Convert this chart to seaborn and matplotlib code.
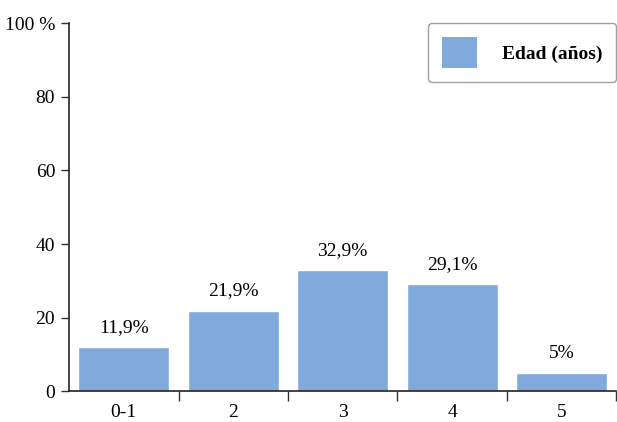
import numpy as np
import pandas as pd
import seaborn as sns
import matplotlib.pyplot as plt
from matplotlib.patches import Patch

categorias = ['0-1', '2', '3', '4', '5']
porcentajes = [11.9, 21.9, 32.9, 29.1, 5.0]
etiquetas = ['11,9%', '21,9%', '32,9%', '29,1%', '5%']
y_ticks = [0, 20, 40, 60, 80, 100]
y_labels = ['0', '20', '40', '60', '80', '100 %']

sns.set_style('ticks')
plt.rcParams['font.family'] = ['Liberation Serif', 'DejaVu Serif']
plt.rcParams['font.size'] = 14
plt.rcParams['text.color'] = 'black'
plt.rcParams['xtick.color'] = 'black'
plt.rcParams['ytick.color'] = 'black'

color = '#82a9dc'
df = pd.DataFrame({'edad': categorias, 'pct': porcentajes})

fig = plt.figure(figsize=(6.17, 4.22), dpi=100)
ax = fig.add_axes([0.112, 0.073, 0.887, 0.872])
sns.barplot(data=df, x='edad', y='pct', color=color, saturation=1, width=0.83, ax=ax)

ax.bar_label(ax.containers[0], labels=etiquetas, padding=8, fontsize=14)

ax.set_ylim(0, 100)
ax.set_xlim(-0.5, 4.5)
ax.set_yticks(y_ticks)
ax.set_yticklabels(y_labels)
ax.set_xlabel('')
ax.set_ylabel('')

# ticks on x at the boundaries between groups, labels centered
ax.set_xticks(np.arange(len(categorias)) + 0.5)
ax.set_xticklabels([])
ax.set_xticks(np.arange(len(categorias)), minor=True)
ax.set_xticklabels(categorias, minor=True)
ax.tick_params(axis='x', which='major', length=7, width=1, color='#333333')
ax.tick_params(axis='x', which='minor', length=0, pad=9, labelsize=14)
ax.tick_params(axis='y', length=6, width=1, pad=4, color='#333333', labelsize=14)
for s in ['left', 'bottom']:
    ax.spines[s].set_color('#222222')
    ax.spines[s].set_linewidth(1.2)
sns.despine(ax=ax)

handle = Patch(facecolor=color, edgecolor='none')
leg = ax.legend([handle], ['Edad (años)'], loc='upper right', bbox_to_anchor=(1.0, 1.0),
                borderaxespad=0, frameon=True, fancybox=True, handlelength=1.8,
                handleheight=2.1, handletextpad=1.3, borderpad=0.7,
                prop={'weight': 'bold', 'size': 14})
leg.get_frame().set_edgecolor('#888888')
leg.get_frame().set_linewidth(1.0)

fig.savefig('out.png', dpi=100)
